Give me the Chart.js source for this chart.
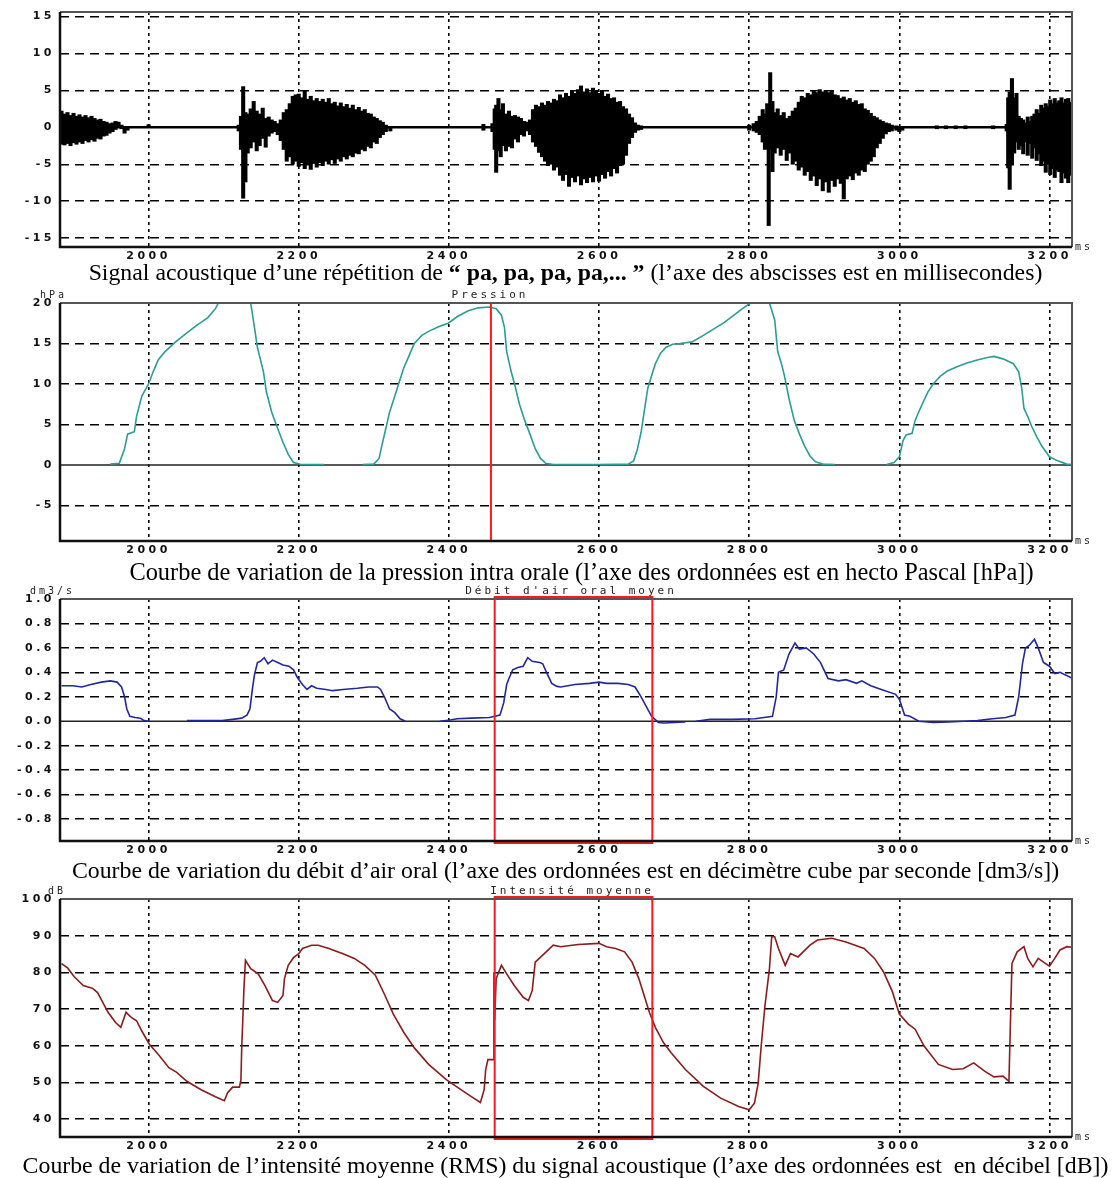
<!DOCTYPE html>
<html lang="fr">
<head>
<meta charset="UTF-8">
<title>Signal, pression, débit et intensité - pa, pa, pa</title>
<script src="https://cdn.jsdelivr.net/npm/chart.js@4.4.1/dist/chart.umd.min.js"></script>
<style>
    body {
        margin: 0;
        padding: 0;
        background: #fff;
        width: 1119px;
        height: 1178px;
        position: relative;
        overflow: hidden;
    }
    canvas {
        position: absolute;
        left: 0;
    }
    .caption {
        position: absolute;
        left: 6px;
        width: 1119px;
        text-align: center;
        font-family: "Liberation Serif", "Times New Roman", serif;
        font-size: 23.8px;
        line-height: 26px;
        color: #000;
        white-space: nowrap;
    }
</style>
</head>
<body>
<canvas id="signalChart" width="1119" height="262" style="top:0px"></canvas>
<div class="caption" style="top:259px">Signal acoustique d’une répétition de <b>“ pa, pa, pa, pa,... ”</b> (l’axe des abscisses est en millisecondes)</div>
<canvas id="pressureChart" width="1119" height="272" style="top:284px"></canvas>
<div class="caption" style="top:559px; left:22px; font-size:24.4px">Courbe de variation de la pression intra orale (l’axe des ordonnées est en hecto Pascal [hPa])</div>
<canvas id="flowChart" width="1119" height="276" style="top:580px"></canvas>
<div class="caption" style="top:857px">Courbe de variation du débit d’air oral (l’axe des ordonnées est en décimètre cube par seconde [dm3/s])</div>
<canvas id="intensityChart" width="1119" height="272" style="top:880px"></canvas>
<div class="caption" style="top:1152px">Courbe de variation de l’intensité moyenne (RMS) du signal acoustique (l’axe des ordonnées est &nbsp;en décibel [dB])</div>

<script>
// time axis (ms)
const xMin = 1882;
const xMax = 3230;
const xTicks = [2000, 2200, 2400, 2600, 2800, 3000, 3200];

// y ticks of each panel
const sigTicks = [-15, -10, -5, 0, 5, 10, 15];
const presTicks = [-5, 0, 5, 10, 15, 20];
const flowTicks = [-0.8, -0.6, -0.4, -0.2, 0.0, 0.2, 0.4, 0.6, 0.8, 1.0];
const intTicks = [40, 50, 60, 70, 80, 90, 100];

// red markers (ms)
const markerTime = 2456;
const boxStart = 2461;
const boxEnd = 2671;

// acoustic signal: envelope per time slot (ms)
const sigTime = [
    1884, 1888, 1892, 1896, 1900, 1904, 1908, 1912, 1916, 1920, 1924, 1928, 1932, 1936, 1940, 1944, 1948, 1952, 1956, 1960, 1964, 1968, 1972, 2000,
    2120, 2123, 2126, 2129, 2132, 2136, 2140, 2144, 2148, 2152, 2156, 2160, 2164, 2168, 2172, 2176,
    2180, 2184, 2188, 2192, 2196, 2200, 2204, 2208, 2212, 2216, 2220, 2224, 2228, 2232, 2236, 2240, 2244, 2248, 2252, 2256, 2260, 2264, 2268, 2272, 2276, 2280, 2284, 2288, 2292, 2296, 2300, 2304, 2308, 2312, 2316, 2322,
    2446, 2458, 2461, 2463, 2466, 2469, 2472, 2476, 2480, 2484, 2488, 2492, 2496, 2500, 2504,
    2508, 2512, 2516, 2520, 2524, 2528, 2532, 2536, 2540, 2544, 2548, 2552, 2556, 2560, 2564, 2568, 2572, 2576, 2580, 2584, 2588, 2592, 2596, 2600, 2604, 2608, 2612, 2616, 2620, 2624, 2628, 2632, 2636, 2640, 2644, 2648, 2652, 2656,
    2800, 2806, 2810, 2814, 2818, 2821, 2824, 2826, 2828, 2831, 2834, 2838, 2842, 2846, 2850,
    2854, 2858, 2862, 2866, 2870, 2874, 2878, 2882, 2886, 2890, 2894, 2898, 2902, 2906, 2910, 2914, 2918, 2922, 2926, 2930, 2934, 2938, 2942, 2946, 2950, 2954, 2958, 2962, 2966, 2970, 2974, 2978, 2982, 2986, 2990, 2996, 3000, 3004,
    3050, 3062, 3075, 3088, 3125,
    3143, 3145, 3147, 3150, 3153, 3156, 3159, 3162, 3165, 3168, 3171, 3174, 3177, 3180, 3183, 3186, 3189, 3192, 3195, 3198, 3201, 3204, 3207, 3210, 3213, 3216, 3219, 3222, 3225, 3228
];
const sigHigh = [
    2.2, 1.8, 2.0, 1.6, 1.9, 1.5, 1.7, 1.4, 1.6, 1.3, 1.5, 1.2, 1.0, 1.1, 0.8, 0.7, 0.5, 0.6, 0.8, 0.7, 0.3, 0.1, 0.1, 0.35,
    0.3, 1.5, 5.5, 2.0, 1.8, 2.5, 3.5, 2.2, 1.8, 2.6, 1.2, 1.4, 1.0, 0.8, 0.5, 1.0,
    2.0, 2.4, 3.2, 4.2, 4.4, 4.5, 4.0, 5.0, 3.8, 4.2, 3.6, 3.9, 3.5, 3.8, 3.4, 3.9, 3.2, 3.4, 2.9, 3.3, 2.8, 3.1, 2.6, 3.0, 2.4, 2.7, 2.2, 2.4, 1.9, 1.8, 1.4, 1.2, 0.9, 0.7, 0.3, 0.1,
    0.4, 0.5, 2.5, 3.0, 3.9, 2.4, 3.2, 1.8, 2.2, 1.5, 1.6, 1.4, 1.2, 0.8, 0.7,
    1.0, 2.4, 3.0, 2.8, 3.3, 3.0, 3.5, 3.3, 3.8, 3.6, 4.4, 4.0, 4.6, 4.2, 5.0, 4.6, 5.1, 5.6, 4.8, 5.2, 4.7, 5.3, 5.0, 4.6, 4.9, 4.2, 4.5, 3.9, 4.0, 3.4, 3.5, 2.8, 2.5, 1.8, 1.3, 0.6, 0.3, 0.2,
    0.3, 0.5, 0.8, 1.5, 2.4, 1.8, 3.2, 2.5, 7.4, 3.5, 2.0, 2.5, 1.6, 2.0, 1.2,
    1.5, 2.2, 2.6, 3.4, 4.2, 4.0, 4.6, 4.4, 4.9, 4.7, 5.1, 4.8, 5.0, 4.7, 5.0, 4.4, 4.3, 3.9, 4.1, 3.7, 3.9, 3.4, 3.6, 3.1, 3.2, 2.5, 2.3, 1.9, 1.5, 1.3, 1.0, 0.8, 0.6, 0.5, 0.3, 0.2, 0.1, 0.1,
    0.2, 0.2, 0.2, 0.2, 0.2,
    0.4, 4.0, 4.8, 6.6, 4.0, 4.6, 1.5, 1.2, 1.0, 0.6, 1.4, 0.8, 1.5, 1.8, 2.4, 1.9, 3.0, 2.6, 3.2, 2.8, 3.7, 3.2, 3.9, 3.3, 3.6, 4.0, 3.3, 3.8, 3.9, 3.4
];
const sigLow = [
    -2.3, -2.4, -2.2, -2.5, -2.1, -2.3, -2.0, -2.2, -1.8, -2.0, -1.7, -1.9, -1.5, -1.6, -1.2, -1.1, -0.8, -0.6, -0.3, 0.0, -0.2, -0.8, -0.4, -0.05,
    -0.5, -3.0, -9.6, -7.4, -3.5, -2.8, -2.0, -3.2, -2.5, -1.5, -2.7, -1.2, -0.8, -0.6, -1.0, -1.8,
    -3.0, -4.6, -4.0, -5.0, -4.6, -5.3, -4.8, -5.6, -5.0, -5.7, -4.9, -5.4, -4.8, -5.2, -4.6, -5.0, -4.4, -4.9, -4.3, -4.6, -4.0, -4.3, -3.8, -4.0, -3.5, -3.6, -3.0, -3.2, -2.6, -2.8, -2.0, -2.2, -1.4, -1.0, -0.6, -0.5,
    -0.4, -0.6, -3.0, -6.1, -3.2, -4.0, -2.5, -3.2, -2.6, -2.8, -1.6, -2.0, -1.0, -1.2, -0.5,
    -1.0, -2.0, -2.6, -3.4, -4.0, -4.6, -5.2, -5.0, -5.8, -5.4, -6.5, -7.2, -6.4, -8.0, -6.8, -7.4, -6.6, -7.8, -7.0, -7.5, -6.8, -7.4, -6.6, -7.3, -6.4, -6.9, -6.0, -6.6, -5.6, -6.2, -5.2, -5.0, -3.8, -2.2, -1.4, -0.7, -0.4, -0.3,
    -0.4, -0.5, -0.7, -1.0, -2.0, -3.0, -2.5, -13.3, -3.0, -6.0, -3.5, -2.8, -3.8, -3.0, -4.5,
    -3.5, -5.0, -4.6, -5.8, -5.4, -6.5, -6.0, -7.2, -6.6, -7.9, -7.0, -8.6, -7.4, -8.8, -7.2, -8.0, -7.0, -7.6, -9.7, -7.0, -6.6, -7.1, -6.2, -6.5, -5.8, -6.0, -5.0, -4.6, -4.0, -2.8, -2.2, -1.5, -0.9, -0.6, -0.5, -0.4, -0.6, -0.4,
    -0.2, -0.2, -0.2, -0.2, -0.2,
    -0.5, -5.5, -8.4, -5.0, -3.5, -2.0, -3.0, -2.5, -3.6, -2.0, -3.8, -2.2, -4.2, -2.8, -4.5, -3.6, -5.2, -4.6, -6.1, -5.0, -6.4, -5.6, -6.8, -5.8, -6.0, -7.5, -6.2, -6.9, -7.5, -6.5
];

// intra-oral pressure (hPa)
const presTime = [
    1949, 1961, 1968, 1972, 1981, 1984, 1991, 2000, 2006, 2013, 2022, 2036, 2051, 2065, 2079, 2089, 2093, 2115, 2136, 2141, 2145, 2153, 2157, 2164, 2172, 2179, 2186, 2193, 2202, 2221, 2234, 2240,
    2285, 2300, 2307, 2311, 2316, 2321, 2328, 2333, 2340, 2347, 2354, 2364, 2373, 2387, 2399, 2411, 2425, 2439, 2454, 2463, 2470, 2474, 2477, 2483, 2488, 2494, 2501, 2508, 2515, 2522, 2529, 2539, 2560, 2600, 2639,
    2646, 2651, 2656, 2660, 2665, 2670, 2675, 2682, 2689, 2698, 2708, 2724, 2739, 2753, 2767, 2781, 2791, 2800, 2808, 2820, 2827, 2834, 2838, 2843, 2847, 2853, 2860, 2867, 2874, 2881, 2888, 2898, 2914, 2920,
    2983, 2993, 3000, 3005, 3009, 3017, 3021, 3028, 3038, 3045, 3055, 3064, 3076, 3090, 3105, 3119, 3126, 3138, 3152, 3159, 3163, 3166, 3171, 3176, 3183, 3190, 3200, 3211, 3223, 3230
];
const presValue = [
    0.1, 0.2, 2.0, 3.8, 4.1, 6.0, 8.5, 10.0, 11.5, 13.0, 14.0, 15.2, 16.3, 17.3, 18.2, 19.3, 20.0, 21.5, 20.0, 17.0, 14.5, 11.5, 9.0, 6.5, 4.5, 2.8, 1.3, 0.3, 0.08, 0.05, 0.05, null,
    0.05, 0.1, 0.8, 2.5, 4.5, 6.5, 8.5, 10.0, 12.0, 13.5, 15.0, 16.0, 16.5, 17.1, 17.5, 18.3, 19.0, 19.4, 19.5, 19.3, 18.5, 17.0, 14.0, 11.5, 9.8, 7.5, 5.5, 3.8, 2.0, 0.8, 0.2, 0.05, 0.05, 0.05, 0.1,
    0.5, 1.9, 4.0, 6.5, 9.5, 11.0, 12.5, 13.8, 14.5, 14.9, 15.0, 15.2, 16.0, 16.8, 17.6, 18.6, 19.3, 19.9, 20.5, 21.0, 20.0, 17.9, 14.0, 12.5, 11.0, 8.2, 5.5, 3.8, 2.3, 1.1, 0.4, 0.1, 0.05, null,
    0.05, 0.3, 1.0, 3.0, 3.7, 3.9, 5.5, 7.0, 9.0, 10.0, 11.0, 11.6, 12.1, 12.6, 13.0, 13.3, 13.4, 13.1, 12.5, 11.5, 9.5, 7.0, 6.0, 4.8, 3.5, 2.3, 1.0, 0.5, 0.1, 0.05
];

// mean oral airflow (dm3/s)
const flowTime = [
    1884, 1899, 1911, 1923, 1937, 1949, 1958, 1964, 1968, 1971, 1975, 1982, 1989, 1994, 2001, 2010,
    2051, 2098, 2112, 2124, 2131, 2135, 2138, 2141, 2145, 2149, 2154, 2159, 2165, 2172, 2179, 2187, 2193, 2198, 2205, 2211, 2217, 2224, 2236, 2245, 2259, 2278, 2293, 2305, 2309, 2314, 2321, 2328, 2335, 2342, 2350,
    2388, 2402, 2411, 2430, 2454, 2468, 2473, 2477, 2480, 2485, 2492, 2499, 2505, 2511, 2521, 2525, 2530, 2537, 2544, 2549, 2568, 2587, 2600, 2610, 2625, 2639, 2648, 2656, 2663, 2670, 2679, 2686, 2701, 2715, 2722,
    2729, 2748, 2777, 2808, 2831, 2836, 2839, 2846, 2853, 2861, 2867, 2876, 2886, 2895, 2905, 2919, 2929, 2943, 2950, 2962, 2976, 2995, 3000, 3007, 3014, 3026, 3045, 3066, 3086, 3104, 3124, 3142, 3154, 3159, 3164, 3168, 3173, 3180, 3185, 3192, 3200, 3207, 3214, 3231
];
const flowValue = [
    0.29, 0.29, 0.28, 0.30, 0.32, 0.33, 0.32, 0.28, 0.20, 0.10, 0.04, 0.03, 0.025, 0.005, 0.0, null,
    0.005, 0.005, 0.015, 0.025, 0.05, 0.10, 0.25, 0.38, 0.48, 0.49, 0.52, 0.47, 0.50, 0.48, 0.46, 0.45, 0.42, 0.36, 0.30, 0.26, 0.29, 0.27, 0.26, 0.25, 0.26, 0.27, 0.28, 0.28, 0.26, 0.20, 0.10, 0.07, 0.02, 0.0, null,
    0.0, 0.01, 0.02, 0.025, 0.03, 0.05, 0.15, 0.30, 0.35, 0.42, 0.44, 0.45, 0.52, 0.49, 0.48, 0.47, 0.40, 0.31, 0.285, 0.28, 0.30, 0.31, 0.32, 0.31, 0.31, 0.30, 0.28, 0.20, 0.12, 0.04, -0.01, -0.015, -0.01, -0.005, null,
    0.0, 0.015, 0.015, 0.02, 0.04, 0.20, 0.40, 0.42, 0.55, 0.64, 0.59, 0.60, 0.55, 0.48, 0.35, 0.33, 0.34, 0.31, 0.33, 0.29, 0.26, 0.22, 0.18, 0.05, 0.04, 0.0, -0.01, -0.005, 0.0, 0.005, 0.02, 0.03, 0.05, 0.20, 0.47, 0.60, 0.62, 0.67, 0.60, 0.48, 0.45, 0.39, 0.40, 0.35
];

// mean intensity (dB)
const intTime = [
    1884, 1892, 1901, 1913, 1925, 1932, 1946, 1956, 1963, 1970, 1977, 1984, 1991, 2001, 2013, 2027, 2037, 2051, 2070, 2089, 2101, 2105, 2112, 2121, 2123, 2124, 2127, 2129,
    2136, 2146, 2155, 2165, 2172, 2179, 2181, 2186, 2193, 2200, 2205, 2217, 2226, 2240, 2259, 2274, 2288, 2302, 2314, 2326, 2340, 2354, 2373, 2397, 2416, 2430, 2442,
    2447, 2449, 2452, 2459, 2460, 2461, 2463, 2470, 2477, 2487, 2499, 2506, 2511, 2515, 2525, 2539,
    2549, 2572, 2600, 2610, 2622, 2634, 2644, 2653, 2667, 2675, 2686, 2696, 2715, 2739, 2762, 2786, 2800, 2807, 2812, 2816, 2821, 2827, 2830, 2834, 2839, 2848, 2855, 2865, 2881, 2891, 2910, 2929, 2953, 2967, 2979, 2991,
    3000, 3012, 3021, 3033, 3052, 3071, 3085, 3099, 3114, 3126, 3138, 3146, 3148, 3150, 3157, 3166, 3171, 3178, 3185, 3192, 3200, 3207, 3214, 3223, 3231
];
const intValue = [
    82.4, 81.2, 78.8, 76.4, 75.7, 74.5, 69.1, 66.3, 65.0, 69.1, 67.7, 66.8, 64.0, 60.4, 57.6, 54.0, 52.8, 50.3, 48.0, 46.1, 45.0, 47.1, 48.7, 48.7, 50.7, 59.0, 75.5, 83.3,
    81.0, 79.6, 76.4, 72.3, 71.8, 73.7, 78.3, 81.9, 84.0, 85.1, 86.5, 87.4, 87.4, 86.5, 85.1, 83.8, 81.9, 79.2, 74.1, 68.6, 63.6, 59.4, 54.9, 50.7, 48.0, 46.1, 44.5,
    48.0, 53.5, 56.2, 56.2, 80.0, 67.0, 78.3, 81.9, 79.6, 76.4, 73.2, 72.3, 75.0, 82.8, 84.7, 87.4,
    87.0, 87.6, 87.9, 87.0, 86.5, 85.6, 82.8, 78.3, 69.1, 65.0, 60.8, 58.1, 53.5, 48.9, 45.7, 43.4, 42.5, 44.3, 49.8, 59.9, 70.9, 81.0, 89.7, 89.7, 86.5, 81.9, 85.1, 84.2, 87.4, 88.8, 89.3, 88.3, 86.5, 83.8, 80.1, 74.6,
    68.6, 65.9, 64.5, 59.9, 54.9, 53.5, 53.7, 55.3, 53.0, 51.5, 51.7, 50.3, 66.3, 82.4, 85.6, 87.0, 83.8, 81.5, 83.8, 82.8, 81.7, 83.8, 86.1, 87.0, 86.8
];

const tickFont = { family: "'DejaVu Sans', sans-serif", size: 11, weight: 'bold' };

// frame, zero line, red markers and small labels
const panelDecor = {
    id: 'panelDecor',
    beforeDraw(chart) {
        chart.ctx.letterSpacing = '3.5px';
    },
    beforeDatasetsDraw(chart, args, opts) {
        if (!opts.zeroWidth) return;
        const ctx = chart.ctx;
        const a = chart.chartArea;
        const py = chart.scales.y.getPixelForValue(0);
        ctx.save();
        ctx.strokeStyle = opts.zeroColor;
        ctx.lineWidth = opts.zeroWidth;
        ctx.beginPath();
        ctx.moveTo(a.left, py);
        ctx.lineTo(a.right, py);
        ctx.stroke();
        ctx.restore();
    },
    afterDatasetsDraw(chart, args, opts) {
        const ctx = chart.ctx;
        const a = chart.chartArea;
        const x = chart.scales.x;
        ctx.save();
        ctx.strokeStyle = '#ff1a1a';
        ctx.lineWidth = 2;
        if (opts.markerLine) {
            const px = x.getPixelForValue(opts.markerLine);
            ctx.beginPath();
            ctx.moveTo(px, a.top);
            ctx.lineTo(px, a.bottom);
            ctx.stroke();
        }
        if (opts.markerBox) {
            const x1 = x.getPixelForValue(opts.markerBox[0]);
            const x2 = x.getPixelForValue(opts.markerBox[1]);
            ctx.strokeRect(x1, a.top - 2, x2 - x1, a.bottom - a.top + 4);
        }
        ctx.restore();
    },
    afterDraw(chart, args, opts) {
        const ctx = chart.ctx;
        const a = chart.chartArea;
        ctx.save();
        // frame
        ctx.strokeStyle = '#555';
        ctx.lineWidth = 2;
        ctx.beginPath();
        ctx.moveTo(a.left, a.top);
        ctx.lineTo(a.right, a.top);
        ctx.lineTo(a.right, a.bottom);
        ctx.stroke();
        ctx.strokeStyle = '#111';
        ctx.lineWidth = 2.5;
        ctx.beginPath();
        ctx.moveTo(a.left, a.top);
        ctx.lineTo(a.left, a.bottom);
        ctx.lineTo(a.right, a.bottom);
        ctx.stroke();

        ctx.fillStyle = '#222';
        ctx.textBaseline = 'middle';
        ctx.font = "10px 'DejaVu Sans Mono', monospace";
        ctx.letterSpacing = '3px';
        ctx.textAlign = 'left';
        ctx.fillText('ms', a.right + 3, a.bottom);
        if (opts.unit) {
            ctx.fillText(opts.unit, opts.unitX, a.top - 8);
        }
        if (opts.title) {
            ctx.font = "11px 'DejaVu Sans Mono', monospace";
            ctx.textAlign = 'center';
            ctx.fillText(opts.title, opts.titleX, a.top - 8);
        }
        ctx.restore();
    }
};

function pairs(times, values) {
    return times.map((t, i) => ({ x: t, y: values[i] }));
}

function axisX() {
    return {
        type: 'linear',
        min: xMin,
        max: xMax,
        offset: false,
        afterBuildTicks: s => { s.ticks = xTicks.map(v => ({ value: v })); },
        afterFit: s => { s.height = 15; },
        grid: { color: '#000', lineWidth: 1.6, drawTicks: false, offset: false },
        border: { display: false, dash: [3, 4] },
        ticks: { font: tickFont, color: '#111', padding: 3, maxRotation: 0, autoSkip: false, callback: v => String(v) }
    };
}

function axisY(min, max, ticks, digits, hideZero) {
    return {
        type: 'linear',
        min: min,
        max: max,
        afterBuildTicks: s => { s.ticks = ticks.map(v => ({ value: v })); },
        afterFit: s => { s.width = 60; },
        grid: {
            color: c => (hideZero && c.tick && c.tick.value === 0) ? 'rgba(0,0,0,0)' : '#000',
            lineWidth: 1.4,
            drawTicks: false
        },
        border: { display: false, dash: [9, 6] },
        ticks: { font: tickFont, color: '#111', padding: 5, autoSkip: false, callback: v => v.toFixed(digits) }
    };
}

function makePanel(id, type, datasets, yAxis, decor, topPad) {
    return new Chart(document.getElementById(id), {
        type: type,
        data: { datasets: datasets },
        options: {
            responsive: false,
            animation: false,
            events: [],
            layout: { padding: { top: topPad, right: 47, left: 0, bottom: 0 } },
            scales: { x: axisX(), y: yAxis },
            plugins: {
                legend: { display: false },
                tooltip: { enabled: false },
                panelDecor: decor
            }
        },
        plugins: [panelDecor]
    });
}

makePanel('signalChart', 'bar', [{
    label: 'Signal acoustique',
    data: sigTime.map((t, i) => ({ x: t, y: [sigLow[i], sigHigh[i]] })),
    backgroundColor: '#000',
    borderWidth: 0,
    barThickness: 3.4
}], axisY(-16.2, 15.6, sigTicks, 0, true), { zeroColor: '#000', zeroWidth: 2.5 }, 12);

makePanel('pressureChart', 'line', [{
    label: 'Pression',
    data: pairs(presTime, presValue),
    borderColor: '#2a9d98',
    borderWidth: 1.6,
    pointRadius: 0,
    spanGaps: false
}], axisY(-9.4, 20, presTicks, 0, true), {
    zeroColor: '#222', zeroWidth: 1.5, markerLine: markerTime,
    title: 'Pression', titleX: 490, unit: 'hPa', unitX: 40
}, 19);

makePanel('flowChart', 'line', [{
    label: "Débit d'air oral moyen",
    data: pairs(flowTime, flowValue),
    borderColor: '#22279a',
    borderWidth: 1.6,
    pointRadius: 0,
    spanGaps: false
}], axisY(-0.98, 1.0, flowTicks, 1, true), {
    zeroColor: '#222', zeroWidth: 1.5, markerBox: [boxStart, boxEnd],
    title: "Débit d'air oral moyen", titleX: 571, unit: 'dm3/s', unitX: 30
}, 19);

makePanel('intensityChart', 'line', [{
    label: 'Intensité moyenne',
    data: pairs(intTime, intValue),
    borderColor: '#8c1c1c',
    borderWidth: 1.6,
    pointRadius: 0
}], axisY(35.1, 100, intTicks, 0, false), {
    markerBox: [boxStart, boxEnd],
    title: 'Intensité moyenne', titleX: 572, unit: 'dB', unitX: 48
}, 19);
</script>
</body>
</html>
